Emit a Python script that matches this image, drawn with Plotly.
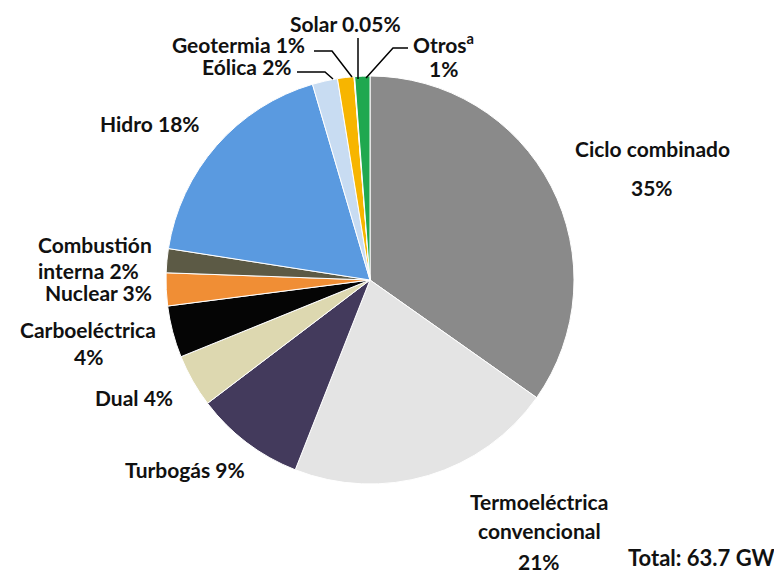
import plotly.graph_objects as go

# Capacidad instalada por tecnología (%), total 63.7 GW
tecnologias = ["Ciclo combinado", "Termoeléctrica convencional", "Turbogás", "Dual",
               "Carboeléctrica", "Nuclear", "Combustión interna", "Hidro",
               "Eólica", "Geotermia", "Solar", "Otros"]
porcentajes = [34.8, 21.2, 8.7, 4.2, 4.1, 2.6, 1.9, 18.0, 2.0, 1.3, 0.05, 1.2]
colores = ["#8a8a8a", "#e4e4e4", "#433a5c", "#ddd8b0", "#050505", "#f08e35",
           "#5c5a45", "#5a9ae0", "#c8dcf2", "#f7b500", "#ffffff", "#1fa84f"]

W, H = 782, 579
OFF = 8  # margen del body de la página
FONT = "Lato"


def px(x, y):
    # pixeles de la imagen (desde arriba-izquierda) -> coordenadas paper
    return (x - OFF) / W, 1 - (y - OFF) / H


cx, cy, r = 370, 280, 204
x0, y1 = px(cx - r, cy - r)
x1, y0 = px(cx + r, cy + r)

fig = go.Figure()
fig.add_trace(go.Pie(
    labels=tecnologias,
    values=porcentajes,
    marker=dict(colors=colores, line=dict(color="#ffffff", width=1)),
    sort=False,
    direction="clockwise",
    rotation=0,
    textinfo="none",
    hoverinfo="label+percent",
    showlegend=False,
    domain=dict(x=[x0, x1], y=[y0, y1]),
))

# etiquetas (texto, x, y en pixeles)
etiquetas = [
    ("Solar 0.05%", 345, 24),
    ("Geotermia 1%", 239, 44),
    ("Eólica 2%", 247, 67),
    ("Otros<sup>a</sup>", 443, 43),
    ("1%", 443, 68),
    ("Hidro 18%", 150, 124),
    ("Ciclo combinado", 652, 148),
    ("35%", 652, 187),
    ("Combustión", 95, 244),
    ("interna 2%", 88, 270),
    ("Nuclear 3%", 98, 292),
    ("Carboeléctrica", 88, 329),
    ("4%", 88, 356),
    ("Dual 4%", 134, 397),
    ("Turbogás 9%", 185, 470),
    ("Termoeléctrica", 539, 501),
    ("convencional", 539, 530),
    ("21%", 539, 561),
]

annotations = []
for texto, x, y in etiquetas:
    ax, ay = px(x, y)
    annotations.append(dict(
        text=texto, x=ax, y=ay, xref="paper", yref="paper",
        showarrow=False, xanchor="center", yanchor="middle",
        font=dict(family=FONT, size=21, color="#111111", weight="bold"),
    ))

tx, ty = px(777, 557)
annotations.append(dict(
    text="Total: 63.7 GW", x=tx, y=ty, xref="paper", yref="paper",
    showarrow=False, xanchor="right", yanchor="middle",
    font=dict(family=FONT, size=22, color="#111111", weight="bold"),
))

# líneas guía de las etiquetas pequeñas
guias = [
    [(358, 38), (358, 79)],
    [(314, 51), (332, 51), (352, 77)],
    [(297, 72), (325, 72), (333, 79)],
    [(408, 48), (393, 48), (366, 78)],
]
shapes = []
for puntos in guias:
    path = "M " + " L ".join(f"{px(x, y)[0]},{px(x, y)[1]}" for x, y in puntos)
    shapes.append(dict(type="path", path=path, xref="paper", yref="paper",
                       line=dict(color="#000000", width=1.5)))

fig.update_layout(
    width=W, height=H,
    margin=dict(l=0, r=0, t=0, b=0),
    paper_bgcolor="white",
    plot_bgcolor="white",
    annotations=annotations,
    shapes=shapes,
)

fig.write_html("out.html")
